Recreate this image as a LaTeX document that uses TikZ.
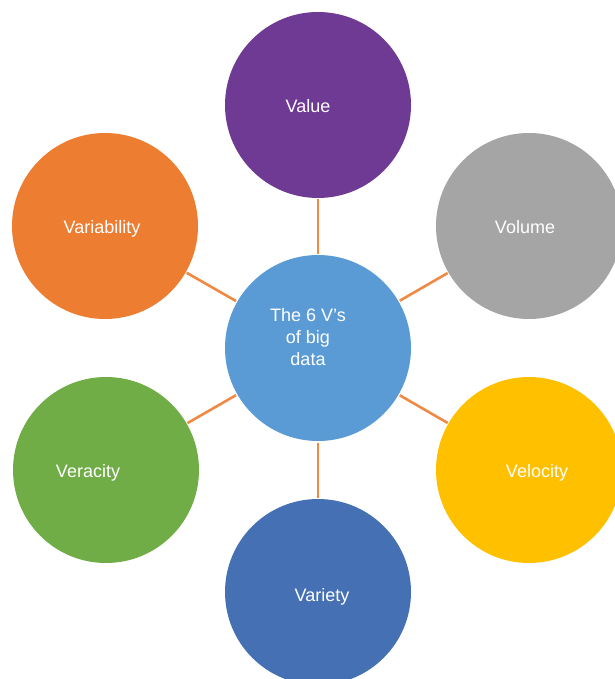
\documentclass[tikz,border=0pt]{standalone}
\usepackage{fontspec}
\setmainfont{Liberation Sans}
\usetikzlibrary{calc}
\definecolor{cCenter}{HTML}{5B9BD5}
\definecolor{cValue}{HTML}{6E3A93}
\definecolor{cVolume}{HTML}{A5A5A5}
\definecolor{cVelocity}{HTML}{FFC000}
\definecolor{cVariety}{HTML}{4670B4}
\definecolor{cVeracity}{HTML}{70AD47}
\definecolor{cVariability}{HTML}{ED7D31}
\definecolor{cLine}{HTML}{EF8A45}
\tikzset{
  bub/.style={circle, draw=none, minimum size=186pt, inner sep=0pt, outer sep=0pt},
  lbl/.style={text=white, font=\fontsize{18}{22}\selectfont, inner sep=0pt, anchor=base},
  link/.style={draw=cLine, line width=2.6pt, shorten <=1.5pt, shorten >=1pt}
}
\begin{document}
\begin{tikzpicture}[x=1pt,y=-1pt]
\useasboundingbox (0,0) rectangle (614,679);
\node[bub, fill=cCenter] (center) at (318,348) {};
\node[bub, fill=cValue] (value) at (318,105) {};
\node[bub, fill=cVolume] (volume) at (529,226) {};
\node[bub, fill=cVelocity] (velocity) at (529,470) {};
\node[bub, fill=cVariety] (variety) at (318,592) {};
\node[bub, fill=cVeracity] (veracity) at (106,470) {};
\node[bub, fill=cVariability] (variability) at (105,226) {};
\draw[link] (center) -- (value);
\draw[link] (center) -- (volume);
\draw[link] (center) -- (velocity);
\draw[link] (center) -- (variety);
\draw[link] (center) -- (veracity);
\draw[link] (center) -- (variability);
\node[lbl] (tvalue) at (308,113) {Value};
\node[lbl] (tvolume) at (525,233) {Volume};
\node[lbl] (tvelocity) at (537,477) {Velocity};
\node[lbl] (tvariety) at (322,601) {Variety};
\node[lbl] (tveracity) at (88,477) {Veracity};
\node[lbl] (tvariability) at (102,233) {Variability};
\node[lbl, anchor=center, align=center] (tcenter) at (308,337) {The 6 V’s\\of big\\data};
\end{tikzpicture}
\end{document}
